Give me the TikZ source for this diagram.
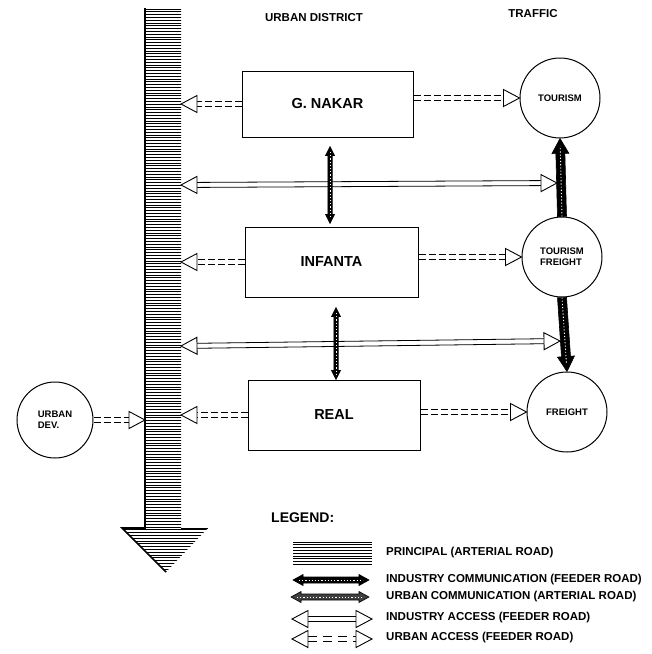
\documentclass[tikz,border=0pt]{standalone}
\usepackage{fontspec}
\setmainfont{Liberation Sans}
\usetikzlibrary{calc}
\tikzset{
 box/.style={draw, line width=1pt, inner sep=0pt, font=\bfseries\fontsize{14.5}{16}\selectfont},
 circ/.style={draw, circle, line width=1pt, minimum size=80pt, inner sep=0pt, align=left, font=\bfseries\fontsize{9.5}{11}\selectfont},
 headtxt/.style={font=\bfseries\fontsize{11.5}{13}\selectfont},
 legtxt/.style={anchor=west, inner sep=0pt, font=\bfseries\fontsize{11.5}{13}\selectfont},
 accline/.style={line width=0.8pt},
 udash/.style={dash pattern=on 7pt off 3pt},
 ldash/.style={dash pattern=on 9pt off 6pt},
 acctip/.style={line width=0.9pt, fill=white, line join=miter},
 hatchline/.style={line width=0.75pt},
 commfill/.style={fill=black, draw=black, line width=0.6pt, line join=miter},
 speck/.style={white, line width=0.9pt, dash pattern=on 1.2pt off 2pt},
}
% one-tip access connector: #1 extra style, #2 start, #3 tip
\newcommand\accessone[3]{%
  \coordinate (AB) at ($(#3)!16pt!(#2)$);
  \draw[accline,#1] ($(#2)!2.5pt!90:(#3)$) -- ($(AB)!2.5pt!-90:(#2)$);
  \draw[accline,#1] ($(#2)!2.5pt!-90:(#3)$) -- ($(AB)!2.5pt!90:(#2)$);
  \draw[acctip] (#3) -- ($(AB)!8.5pt!90:(#3)$) -- ($(AB)!8.5pt!-90:(#3)$) -- cycle;}
% two-tip access connector
\newcommand\accesstwo[3]{%
  \coordinate (ABa) at ($(#2)!16pt!(#3)$);
  \coordinate (ABb) at ($(#3)!16pt!(#2)$);
  \draw[accline,#1] ($(ABa)!2.5pt!90:(ABb)$) -- ($(ABb)!2.5pt!-90:(ABa)$);
  \draw[accline,#1] ($(ABa)!2.5pt!-90:(ABb)$) -- ($(ABb)!2.5pt!90:(ABa)$);
  \draw[acctip] (#2) -- ($(ABa)!8.5pt!90:(#2)$) -- ($(ABa)!8.5pt!-90:(#2)$) -- cycle;
  \draw[acctip] (#3) -- ($(ABb)!8.5pt!90:(#3)$) -- ($(ABb)!8.5pt!-90:(#3)$) -- cycle;}
% single-headed communication arrow: #1 from, #2 to, #3 half body, #4 half head, #5 head length
\newcommand\commone[5]{%
  \coordinate (CH) at ($(#2)!#5!(#1)$);
  \draw[commfill] ($(#1)!#3!90:(#2)$) -- ($(CH)!#3!-90:(#1)$) -- ($(CH)!#4!-90:(#1)$) -- (#2)
     -- ($(CH)!#4!90:(#1)$) -- ($(CH)!#3!90:(#1)$) -- ($(#1)!#3!-90:(#2)$) -- cycle;
  \draw[speck] (#1) -- ($(#2)!0.5*#5!(#1)$);}
% double-headed communication arrow: #1 fill style, #2 A, #3 B, #4 half body, #5 half head, #6 head length
\newcommand\commtwo[6]{%
  \coordinate (CHa) at ($(#2)!#6!(#3)$);
  \coordinate (CHb) at ($(#3)!#6!(#2)$);
  \draw[commfill,#1] (#2) -- ($(CHa)!#5!90:(#3)$) -- ($(CHa)!#4!90:(#3)$) -- ($(CHb)!#4!-90:(#2)$)
     -- ($(CHb)!#5!-90:(#2)$) -- (#3) -- ($(CHb)!#5!90:(#2)$) -- ($(CHb)!#4!90:(#2)$)
     -- ($(CHa)!#4!-90:(#3)$) -- ($(CHa)!#5!-90:(#3)$) -- cycle;
  \draw[speck] ($(#2)!0.6*#6!(#3)$) -- ($(#3)!0.6*#6!(#2)$);}

\begin{document}
\begin{tikzpicture}[x=1pt,y=-1pt]
\useasboundingbox (0,0) rectangle (652,654);
\fill[white] (0,0) rectangle (652,654);

% principal arterial road (bar with arrowhead)
\begin{scope}
  \clip (145,8) -- (181,8) -- (181,528) -- (208,528) -- (166,572) -- (122,528) -- (145,528) -- cycle;
  \foreach \yy in {9,11.8,...,573} \draw[hatchline] (118,\yy) -- (212,\yy);
\end{scope}
\draw[line width=1.6pt] (145,8) -- (145,528) -- (122,528) -- (166,572);
\draw[line width=1pt] (181,528) -- (208,528);
\coordinate (barR) at (181,0);
\coordinate (barL) at (145,0);

% headers
\node[headtxt] (hud) at (314,18) {URBAN DISTRICT};
\node[headtxt] (htr) at (533,14) {TRAFFIC};

% district boxes
\node[box, minimum width=171pt, minimum height=66pt] (gnakar) at (327.5,104) {G. NAKAR};
\node[box, minimum width=173pt, minimum height=70pt] (infanta) at (331.5,262) {INFANTA};
\node[box, minimum width=172pt, minimum height=70pt] (real) at (334,415) {REAL};

% traffic circles
\node[circ] (tourism) at (560,98) {TOURISM};
\node[circ] (tf) at (562,257) {TOURISM\\FREIGHT};
\node[circ] (freight) at (567,412) {FREIGHT};
\node[circ, minimum size=76pt] (udev) at (55,420) {URBAN\\DEV.};

% industry access (solid double, two tips)
\coordinate (ia1a) at (181,185);
\coordinate (ia1b) at (557,183);
\coordinate (ia2a) at (181,346);
\coordinate (ia2b) at (560,341);
\accesstwo{}{ia1a}{ia1b}
\accesstwo{}{ia2a}{ia2b}

% urban access (dashed double, one tip)
\coordinate (ua1) at (gnakar.west -| barR);
\coordinate (ua2s) at (gnakar.east |- tourism.west);
\coordinate (ua3) at (infanta.west -| barR);
\coordinate (ua4s) at (infanta.east |- tf.west);
\coordinate (ua5) at (real.west -| barR);
\coordinate (ua6s) at (real.east |- freight.west);
\coordinate (ua7) at (udev.east -| barL);
\accessone{udash}{gnakar.west}{ua1}
\accessone{udash}{ua2s}{tourism.west}
\accessone{udash}{infanta.west}{ua3}
\accessone{udash}{ua4s}{tf.west}
\accessone{udash}{real.west}{ua5}
\accessone{udash}{ua6s}{freight.west}
\accessone{udash}{udev.east}{ua7}

% communication between districts
\coordinate (c1a) at ($(gnakar.south)+(2.5,9)$);
\coordinate (c1b) at ($(infanta.north)+(-1.5,-3)$);
\coordinate (c2a) at ($(infanta.south)+(4.5,10)$);
\coordinate (c2b) at ($(real.north)+(2,0)$);
\commtwo{}{c1a}{c1b}{2.2pt}{4.5pt}{9pt}
\commtwo{}{c2a}{c2b}{2.2pt}{4.5pt}{9pt}

% traffic communication
\commone{tf.north}{tourism.south}{4.5pt}{8.5pt}{15pt}
\commone{tf.south}{freight.north}{4.5pt}{8.5pt}{15pt}

% legend
\node[anchor=west, inner sep=0pt, font=\bfseries\fontsize{14}{16}\selectfont] (leg) at (271,518) {LEGEND:};
\foreach \yy in {542,544.8,...,566} \draw[hatchline] (293,\yy) -- (372,\yy);
\node[legtxt] (t1) at (386,553) {PRINCIPAL (ARTERIAL ROAD)};

\coordinate (lc1a) at (293,580);
\coordinate (lc1b) at (369,580);
\commtwo{}{lc1a}{lc1b}{3pt}{5.5pt}{10pt}
\node[legtxt] (t2) at (386,580) {INDUSTRY COMMUNICATION (FEEDER ROAD)};

\coordinate (lc2a) at (291,597);
\coordinate (lc2b) at (369,597);
\commtwo{fill=black!75}{lc2a}{lc2b}{3pt}{5.5pt}{10pt}
\node[legtxt] (t3) at (386,597) {URBAN COMMUNICATION (ARTERIAL ROAD)};

\coordinate (la1) at (292,619);
\coordinate (la2) at (372,619);
\accesstwo{}{la1}{la2}
\node[legtxt] (t4) at (386,618) {INDUSTRY ACCESS (FEEDER ROAD)};

\coordinate (lu1) at (292,639);
\coordinate (lu2) at (372,639);
\accesstwo{ldash}{lu1}{lu2}
\node[legtxt] (t5) at (386,638) {URBAN ACCESS (FEEDER ROAD)};
\end{tikzpicture}
\end{document}
